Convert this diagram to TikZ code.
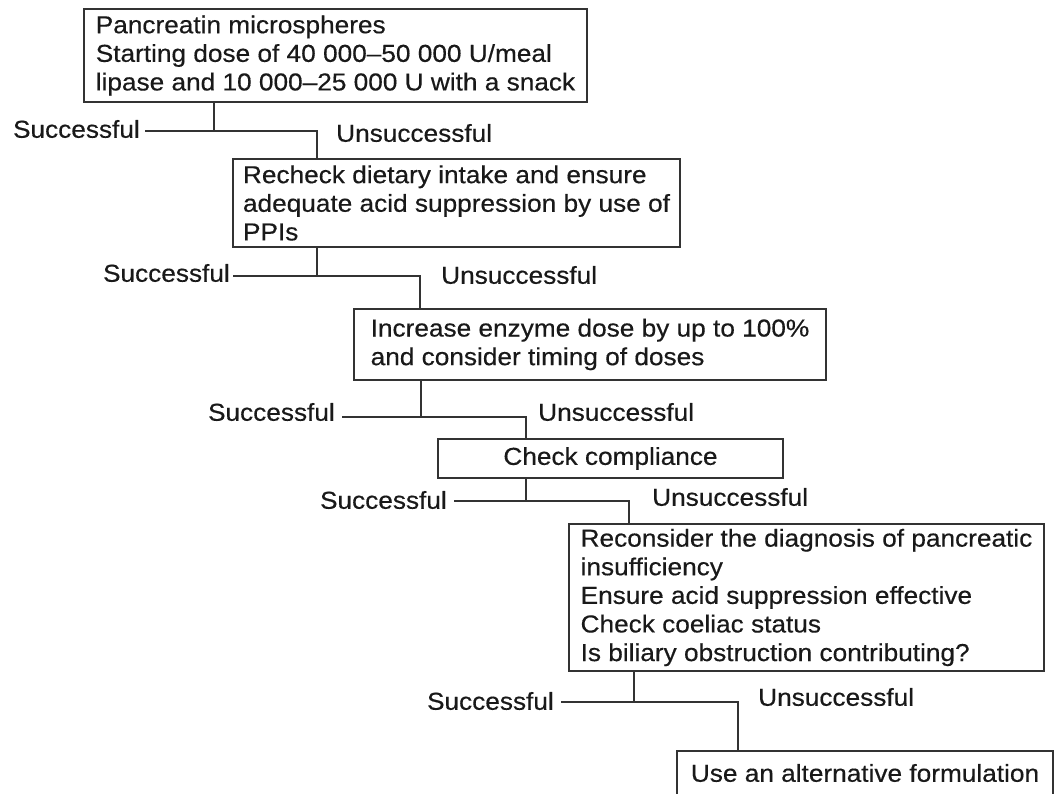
\documentclass[tikz,border=0pt]{standalone}
\usepackage{fontspec}
\setmainfont{Liberation Sans}[FakeStretch=1.07,FakeBold=0.4]
\begin{document}
\begin{tikzpicture}[x=1pt,y=-1pt,
  every node/.style={font=\fontsize{24.5}{28.6}\selectfont, text=black!90},
  box/.style={draw=black!80, line width=1.5pt, inner sep=0pt, align=left},
  lab/.style={inner sep=0pt},
  conn/.style={draw=black!80, line width=1.5pt}]
\useasboundingbox (0,0) rectangle (1055,793);
\fill[white] (0,0) rectangle (1055,793);
\clip (0,0) rectangle (1055,793);

% boxes
\node[box, minimum width=503pt, minimum height=93pt] (b1) at (335.5,55.5)
  {Pancreatin microspheres\\Starting dose of 40 000–50 000 U/meal\\lipase and 10 000–25 000 U with a snack};
\node[box, minimum width=447pt, minimum height=88pt] (b2) at (456.5,203)
  {Recheck dietary intake and ensure\\adequate acid suppression by use of\\PPIs};
\node[box, minimum width=472pt, minimum height=71pt] (b3) at (590,344.5)
  {Increase enzyme dose by up to 100\%\\and consider timing of doses};
\node[box, minimum width=345pt, minimum height=39pt] (b4) at (610.5,458.5)
  {Check compliance};
\node[box, minimum width=475pt, minimum height=147pt] (b5) at (806.5,597.5)
  {Reconsider the diagnosis of pancreatic\\insufficiency\\Ensure acid suppression effective\\Check coeliac status\\Is biliary obstruction contributing?};
\node[box, minimum width=376pt, minimum height=44pt] (b6) at (865,773)
  {Use an alternative formulation};

% junction coordinates
\coordinate (t1) at (214,131);  \coordinate (u1) at (317,131);
\coordinate (t2) at (317,276);  \coordinate (u2) at (420,276);
\coordinate (t3) at (421,417);  \coordinate (u3) at (526,417);
\coordinate (t4) at (526,501);  \coordinate (u4) at (629,501);
\coordinate (t5) at (634,702);  \coordinate (u5) at (738,702);

% labels
\node[lab, anchor=east] (s1) at (140,129) {Successful};
\node[lab, anchor=west] (n1) at (336,133) {Unsuccessful};
\node[lab, anchor=east] (s2) at (230,273) {Successful};
\node[lab, anchor=west] (n2) at (441,275) {Unsuccessful};
\node[lab, anchor=east] (s3) at (335,412) {Successful};
\node[lab, anchor=west] (n3) at (538,412) {Unsuccessful};
\node[lab, anchor=east] (s4) at (447,500) {Successful};
\node[lab, anchor=west] (n4) at (652,497) {Unsuccessful};
\node[lab, anchor=east] (s5) at (554,701) {Successful};
\node[lab, anchor=west] (n5) at (758,697) {Unsuccessful};

% connectors
\draw[conn] (t1 |- b1.south) -- (t1);
\draw[conn] ([xshift=5pt]s1.east |- t1) -- (u1) -- (u1 |- b2.north);
\draw[conn] (t2 |- b2.south) -- (t2);
\draw[conn] ([xshift=3pt]s2.east |- t2) -- (u2) -- (u2 |- b3.north);
\draw[conn] (t3 |- b3.south) -- (t3);
\draw[conn] ([xshift=7pt]s3.east |- t3) -- (u3) -- (u3 |- b4.north);
\draw[conn] (t4 |- b4.south) -- (t4);
\draw[conn] ([xshift=7pt]s4.east |- t4) -- (u4) -- (u4 |- b5.north);
\draw[conn] (t5 |- b5.south) -- (t5);
\draw[conn] ([xshift=7pt]s5.east |- t5) -- (u5) -- (u5 |- b6.north);
\end{tikzpicture}
\end{document}
